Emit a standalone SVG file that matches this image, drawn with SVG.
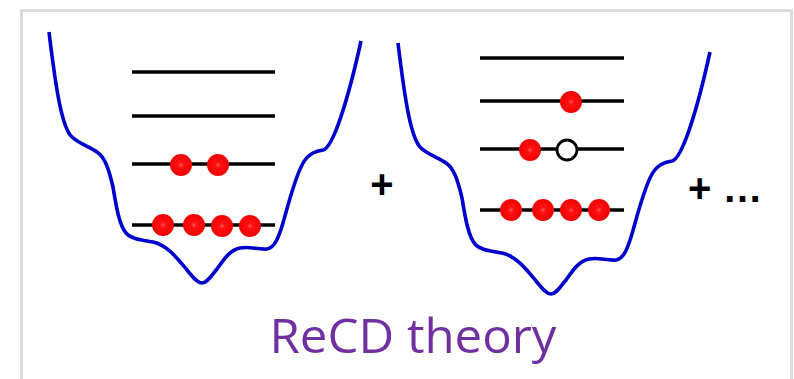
<svg xmlns="http://www.w3.org/2000/svg" width="794" height="379" viewBox="0 0 794 379">
<style>
.frame{fill:#fff;stroke:#dcdcdc;stroke-width:3}
.well{fill:none;stroke:#0000cc;stroke-width:3.6;stroke-linejoin:round;stroke-linecap:butt}
.lvl{stroke:#000;stroke-width:3.6}
.e{fill:url(#ball)}
.h{fill:#fff;stroke:#000;stroke-width:2.8}
.op{font-family:"Liberation Sans",Arial,sans-serif;font-weight:bold;fill:#000}
.title{font-family:"Open Sans","Noto Sans",sans-serif;fill:#7030a0;font-size:48px}
</style>
<defs>
<radialGradient id="ball" cx="0.5" cy="0.5" r="0.5">
<stop offset="0" stop-color="#ff5a5a"/>
<stop offset="0.25" stop-color="#ff1010"/>
<stop offset="1" stop-color="#f20000"/>
</radialGradient>
<path id="wellPath" d="M49,32 C56,90 62,128 72,137 C78,143 90,147 97,152 C105,157 109,170 113,187 C116,205 119,225 126,233 C131,239 142,240 153,242 C167,245 177,258 187,270 C193,277 197,283 202,283 C207,283 211,276 217,269 C224,259 230,250 240,248 C250,246 258,250 267,249 C275,248 279,236 283,223 C288,206 296,172 305,160 C310,153 316,151 323,150 C333,148 348,100 361,41"/>
</defs>
<rect class="frame" x="21.5" y="10.5" width="770" height="380"/>
<g id="well1">
<use href="#wellPath" class="well"/>
<line class="lvl" x1="132" y1="72" x2="275" y2="72"/>
<line class="lvl" x1="132" y1="116" x2="275" y2="116"/>
<line class="lvl" x1="132" y1="164" x2="275" y2="164"/>
<line class="lvl" x1="132" y1="225" x2="275" y2="225"/>
<circle class="e" cx="181" cy="165" r="11"/>
<circle class="e" cx="218" cy="165" r="11"/>
<circle class="e" cx="163" cy="225" r="11"/>
<circle class="e" cx="194" cy="225" r="11"/>
<circle class="e" cx="222" cy="226" r="11"/>
<circle class="e" cx="250" cy="226" r="11"/>
</g>
<g id="plus1"><text class="op" x="382" y="198" font-size="40" text-anchor="middle">+</text></g>
<g id="well2">
<use href="#wellPath" class="well" transform="translate(349,11)"/>
<line class="lvl" x1="480" y1="58" x2="624" y2="58"/>
<line class="lvl" x1="480" y1="101" x2="624" y2="101"/>
<line class="lvl" x1="480" y1="149" x2="624" y2="149"/>
<line class="lvl" x1="480" y1="210" x2="624" y2="210"/>
<circle class="e" cx="571" cy="102" r="11"/>
<circle class="e" cx="530" cy="150" r="11"/>
<circle class="h" cx="567" cy="150" r="10"/>
<circle class="e" cx="511" cy="210" r="11"/>
<circle class="e" cx="543" cy="210" r="11"/>
<circle class="e" cx="571" cy="210" r="11"/>
<circle class="e" cx="599" cy="210" r="11"/>
</g>
<g id="plus2"><text class="op" x="688" y="202" font-size="40">+ …</text></g>
<g id="title"><text class="title" x="413" y="353" text-anchor="middle" textLength="287" lengthAdjust="spacingAndGlyphs">ReCD theory</text></g>
</svg>
